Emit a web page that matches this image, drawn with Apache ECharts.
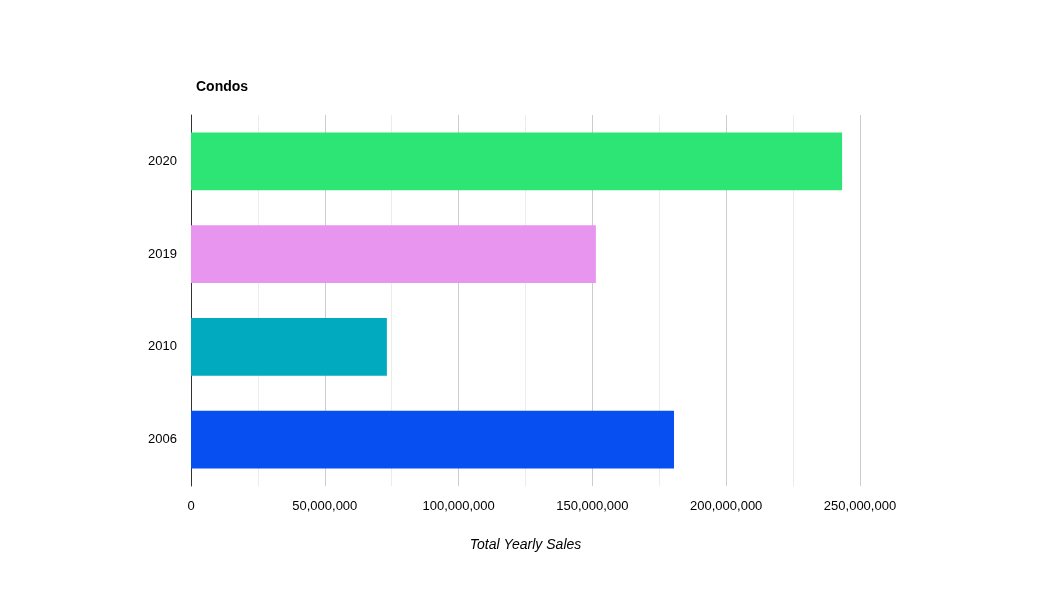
<!DOCTYPE html>
<html><head><meta charset="utf-8">
<script src="https://cdn.jsdelivr.net/npm/echarts@6/dist/echarts.min.js"></script>
<style>html,body{margin:0;padding:0;background:#fff}#c{width:1051px;height:600px}</style>
</head><body><div id="c"></div>
<script>
const categories = ['2006','2010','2019','2020'];
const values = [180500000, 73200000, 151300000, 243300000];
const colors = ['#084ff2','#02aabf','#e895f0','#2ce575'];
const chart = echarts.init(document.getElementById('c'));
chart.setOption({
  animation:false,
  textStyle:{fontFamily:'Liberation Sans, Arial, sans-serif'},
  title:{text:'Condos',left:191,top:75,textStyle:{fontSize:14,fontWeight:'bold',color:'#000'}},
  grid:{left:191,right:191,top:115,bottom:114},
  xAxis:{type:'value',min:0,max:250000000,interval:50000000,
    name:'Total Yearly Sales',nameLocation:'middle',nameGap:52,
    nameTextStyle:{fontStyle:'italic',fontSize:14,color:'#000'},
    axisLine:{show:false},axisTick:{show:false},
    axisLabel:{color:'#000',fontSize:13,margin:14,formatter:v=>v.toLocaleString('en-US')},
    splitLine:{lineStyle:{color:'#cccccc'}},
    minorTick:{show:false,splitNumber:2},
    minorSplitLine:{show:true,lineStyle:{color:'#ececec'}}},
  yAxis:{type:'category',data:categories,
    axisLine:{lineStyle:{color:'#333'}},axisTick:{show:false},
    axisLabel:{color:'#000',fontSize:13,margin:14}},
  series:[{type:'bar',barWidth:'62%',
    data:values.map((v,i)=>({value:v,itemStyle:{color:colors[i]}}))}]
});
</script></body></html>
